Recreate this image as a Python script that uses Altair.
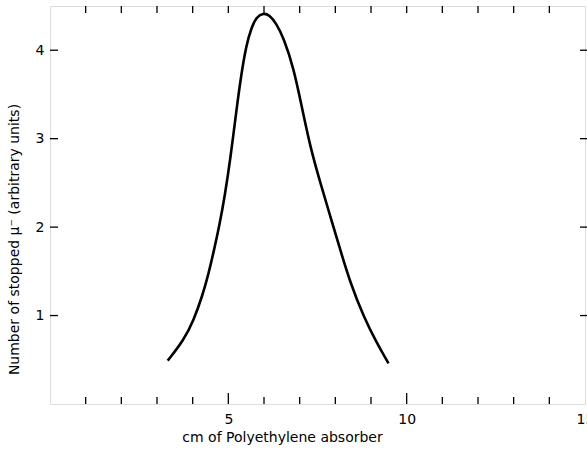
import altair as alt
import pandas as pd

# Curve
absorber_cm = [3.30, 3.75, 4.03, 4.27, 4.45, 4.61, 4.75, 4.90, 5.06, 5.22, 5.36, 5.50, 5.65, 5.80, 5.98,
               6.15, 6.35, 6.55, 6.83, 7.05, 7.30, 7.58, 7.86, 8.14, 8.42, 8.79, 9.16, 9.49]
stopped_mu = [0.49, 0.72, 0.95, 1.22, 1.48, 1.76, 2.02, 2.35, 2.78, 3.30, 3.72, 4.05, 4.26, 4.38, 4.42,
              4.40, 4.30, 4.14, 3.80, 3.38, 2.90, 2.50, 2.12, 1.74, 1.37, 0.99, 0.69, 0.46]

x_ticks = list(range(1, 15))
x_major = [5, 10]
y_ticks = [1, 2, 3, 4]
x_labels = [5, 10, 15]

W, H = 535, 398
FONT = "DejaVu Sans"

curve = pd.DataFrame({"x": absorber_cm, "y": stopped_mu})
xt = pd.DataFrame({"x": x_ticks, "major": [v in x_major for v in x_ticks]})
yt = pd.DataFrame({"y": y_ticks})

xscale = alt.Scale(domain=[0, 15], nice=False, zero=False)
yscale = alt.Scale(domain=[0, 4.5], nice=False, zero=False)

line = alt.Chart(curve).mark_line(color="black", strokeWidth=2.6, interpolate="basis").encode(
    x=alt.X("x:Q", scale=xscale,
            axis=alt.Axis(values=x_labels, format="d", title="cm of Polyethylene absorber", grid=False,
                          domain=False, ticks=False, labelPadding=8, labelFontSize=14,
                          labelFont=FONT, labelColor="black", titleFont=FONT, titleFontSize=14,
                          titleFontWeight="normal", titleColor="black", titlePadding=4,
                          titleX=232, titleAlign="center", labelFlush=False)),
    y=alt.Y("y:Q", scale=yscale,
            axis=alt.Axis(values=y_ticks, format="d", title="Number of stopped  μ⁻ (arbitrary units)", grid=False,
                          domain=False, ticks=False, labelPadding=6, labelFontSize=14,
                          labelFont=FONT, labelColor="black", titleFont=FONT, titleFontSize=14,
                          titleFontWeight="normal", titleColor="black", titlePadding=14,
                          titleY=233, titleAlign="center")),
)

bottom_minor = alt.Chart(xt[~xt["major"]]).mark_rule(color="black", strokeWidth=1.3).encode(
    x=alt.X("x:Q", scale=xscale), y=alt.value(H), y2=alt.value(H - 7))
bottom_major = alt.Chart(xt[xt["major"]]).mark_rule(color="black", strokeWidth=1.3).encode(
    x=alt.X("x:Q", scale=xscale), y=alt.value(H), y2=alt.value(H - 11))
top_ticks = alt.Chart(xt).mark_rule(color="black", strokeWidth=1.3).encode(
    x=alt.X("x:Q", scale=xscale), y=alt.value(0), y2=alt.value(7))
left_ticks = alt.Chart(yt).mark_rule(color="black", strokeWidth=1.3).encode(
    y=alt.Y("y:Q", scale=yscale), x=alt.value(0), x2=alt.value(8))
right_ticks = alt.Chart(yt).mark_rule(color="black", strokeWidth=1.3).encode(
    y=alt.Y("y:Q", scale=yscale), x=alt.value(W + 2), x2=alt.value(W - 5))

chart = alt.layer(line, bottom_minor, bottom_major, top_ticks, left_ticks, right_ticks).properties(
    width=W, height=H,
    autosize=alt.AutoSizeParams(type="none"),
    padding={"left": 50, "top": 6, "right": 2, "bottom": 46},
).configure_view(stroke="black", strokeWidth=1.5).configure(background="white")

chart.save("out.html", embed_options={"renderer": "svg", "actions": False})
